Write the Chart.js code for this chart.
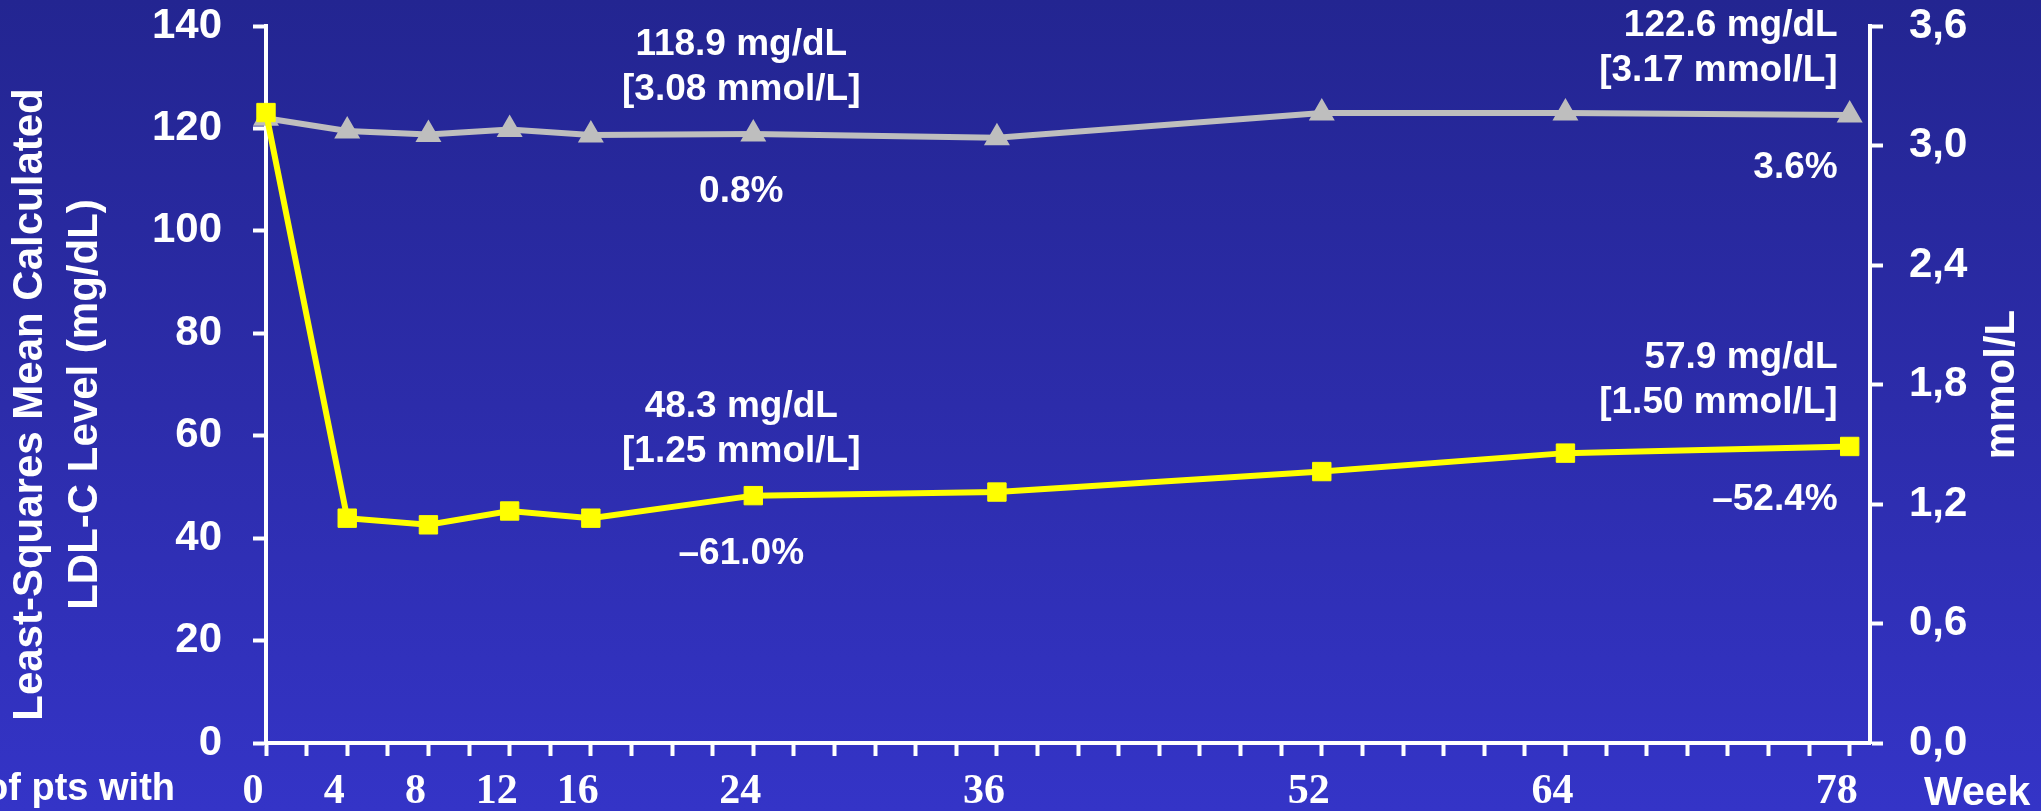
<!DOCTYPE html>
<html>
<head>
<meta charset="utf-8">
<title>LDL-C over 78 weeks</title>
<script src="https://cdn.jsdelivr.net/npm/chart.js@4.4.1/dist/chart.umd.min.js"></script>
<style>
  html, body { margin: 0; padding: 0; background: #2c2caa; }
  #ldl { display: block; }
</style>
</head>
<body>
<canvas id="ldl" width="2041" height="811"></canvas>
<script>
// weeks of measurement and LS mean LDL-C (mg/dL)
const weeks = [0, 4, 8, 12, 16, 24, 36, 52, 64, 78];
const weekLabels = [0, 4, 8, 12, 16, 24, 36, 52, 64, 78];
const treatedLdl = [123.1, 43.9, 42.6, 45.3, 43.9, 48.3, 49.0, 53.0, 56.6, 57.9];
const placeboLdl = [122.0, 119.5, 118.8, 119.8, 118.7, 118.9, 118.2, 123.0, 123.0, 122.6];

// value notes written next to the points at these weeks
const noteWeeks = [24, 78];
const treatedNotes = [
  ["48.3 mg/dL", "[1.25 mmol/L]", "–61.0%"],
  ["57.9 mg/dL", "[1.50 mmol/L]", "–52.4%"],
];
const placeboNotes = [
  ["118.9 mg/dL", "[3.08 mmol/L]", "0.8%"],
  ["122.6 mg/dL", "[3.17 mmol/L]", "3.6%"],
];

const leftTitle = ["Least-Squares Mean Calculated", "LDL-C Level (mg/dL)"];
const rightTitle = "mmol/L";
const weekTitle = "Week";
const footLabel = "of pts with";

const SANS = '"Liberation Sans", Arial, sans-serif';
const SERIF = '"Liberation Serif", "Times New Roman", serif';

const toPoints = (values) => weeks.map((w, i) => ({ x: w, y: values[i] }));

// slide background: dark blue at the top, lighter at the bottom
const backdrop = {
  id: "backdrop",
  beforeDraw(chart) {
    const { ctx, width, height } = chart;
    const g = ctx.createLinearGradient(0, 0, 0, height);
    g.addColorStop(0, "#232591");
    g.addColorStop(0.5, "#2c2caa");
    g.addColorStop(1, "#3434c7");
    ctx.save();
    ctx.fillStyle = g;
    ctx.fillRect(0, 0, width, height);
    ctx.restore();
  },
};

// axis titles and the value notes
const textLayer = {
  id: "textLayer",
  afterDatasetsDraw(chart) {
    const { ctx, chartArea } = chart;
    ctx.save();
    ctx.fillStyle = "#ffffff";

    // notes: two lines above the point, percent change below
    const drawNotes = (datasetIndex, notes) => {
      const meta = chart.getDatasetMeta(datasetIndex);
      noteWeeks.forEach((week, k) => {
        const pt = meta.data[weeks.indexOf(week)];
        const last = week === weeks[weeks.length - 1];
        ctx.font = `bold 37px ${SANS}`;
        ctx.textBaseline = "middle";
        ctx.textAlign = last ? "right" : "center";
        const x = pt.x - 12;
        ctx.fillText(notes[k][0], x, pt.y - 89);
        ctx.fillText(notes[k][1], x, pt.y - 44);
        ctx.fillText(notes[k][2], x, pt.y + (last ? 53 : 58));
      });
    };
    drawNotes(1, placeboNotes);
    drawNotes(0, treatedNotes);

    // left axis title, two rotated lines
    const midY = (chartArea.top + chartArea.bottom) / 2;
    ctx.save();
    ctx.translate(30, midY + 20);
    ctx.rotate(-Math.PI / 2);
    ctx.font = `bold 42px ${SANS}`;
    ctx.textAlign = "center";
    ctx.textBaseline = "middle";
    ctx.fillText(leftTitle[0], 0, 0);
    ctx.fillText(leftTitle[1], 0, 55);
    ctx.restore();

    // right axis title
    ctx.save();
    ctx.translate(2002, midY);
    ctx.rotate(-Math.PI / 2);
    ctx.font = `bold 42px ${SANS}`;
    ctx.textAlign = "center";
    ctx.textBaseline = "middle";
    ctx.fillText(rightTitle, 0, 0);
    ctx.restore();

    ctx.font = `bold 41px ${SANS}`;
    ctx.textAlign = "left";
    ctx.textBaseline = "alphabetic";
    ctx.fillText(weekTitle, 1924, 805);

    ctx.font = `bold 38px ${SANS}`;
    ctx.textAlign = "right";
    ctx.fillText(footLabel, 175, 800);

    ctx.restore();
  },
};

const axisLine = { display: true, color: "#ffffff", width: 4 };
const axisTicks = {
  drawOnChartArea: false,
  drawTicks: true,
  tickLength: 13,
  tickWidth: 4,
  tickColor: "#ffffff",
};

// fixed box sizes so the plot area sits at 266..1870 x 26..743
const fixWidth = (w) => (scale) => {
  scale.width = w;
  scale.paddingTop = 26;
};

new Chart(document.getElementById("ldl").getContext("2d"), {
  type: "line",
  data: {
    datasets: [
      {
        label: "Treatment",
        data: toPoints(treatedLdl),
        borderColor: "#ffff00",
        backgroundColor: "#ffff00",
        borderWidth: 6,
        pointStyle: "rect",
        pointRadius: 13,
        pointBackgroundColor: "#ffff00",
        pointBorderColor: "#ffff00",
        pointBorderWidth: 1,
        tension: 0,
        clip: false,
        yAxisID: "y",
      },
      {
        label: "Placebo",
        data: toPoints(placeboLdl),
        borderColor: "#bebebe",
        backgroundColor: "#bebebe",
        borderWidth: 6,
        pointStyle: "triangle",
        pointRadius: 13,
        pointBackgroundColor: "#bebebe",
        pointBorderColor: "#bebebe",
        pointBorderWidth: 2,
        tension: 0,
        clip: false,
        yAxisID: "y",
      },
    ],
  },
  options: {
    responsive: false,
    animation: false,
    devicePixelRatio: 1,
    layout: { padding: 0 },
    plugins: {
      legend: { display: false },
      tooltip: { enabled: false },
    },
    scales: {
      x: {
        type: "linear",
        min: 0,
        max: 79,
        afterFit: (scale) => { scale.height = 68; },
        border: axisLine,
        grid: axisTicks,
        ticks: {
          stepSize: 2,
          includeBounds: false,
          autoSkip: false,
          maxRotation: 0,
          labelOffset: -13,
          padding: 11,
          color: "#ffffff",
          font: { family: SERIF, size: 42, weight: "bold" },
          callback: (value) => (weekLabels.includes(value) ? String(value) : ""),
        },
      },
      y: {
        position: "left",
        min: 0,
        max: 140,
        afterFit: fixWidth(266),
        border: axisLine,
        grid: axisTicks,
        ticks: {
          stepSize: 20,
          padding: 31,
          color: "#ffffff",
          font: { family: SANS, size: 42, weight: "bold" },
        },
      },
      y1: {
        position: "right",
        min: 0,
        max: 3.6,
        afterFit: fixWidth(171),
        border: axisLine,
        grid: axisTicks,
        ticks: {
          stepSize: 0.6,
          padding: 26,
          color: "#ffffff",
          font: { family: SANS, size: 42, weight: "bold" },
          callback: (value) => value.toFixed(1).replace(".", ","),
        },
      },
    },
  },
  plugins: [backdrop, textLayer],
});
</script>
</body>
</html>
